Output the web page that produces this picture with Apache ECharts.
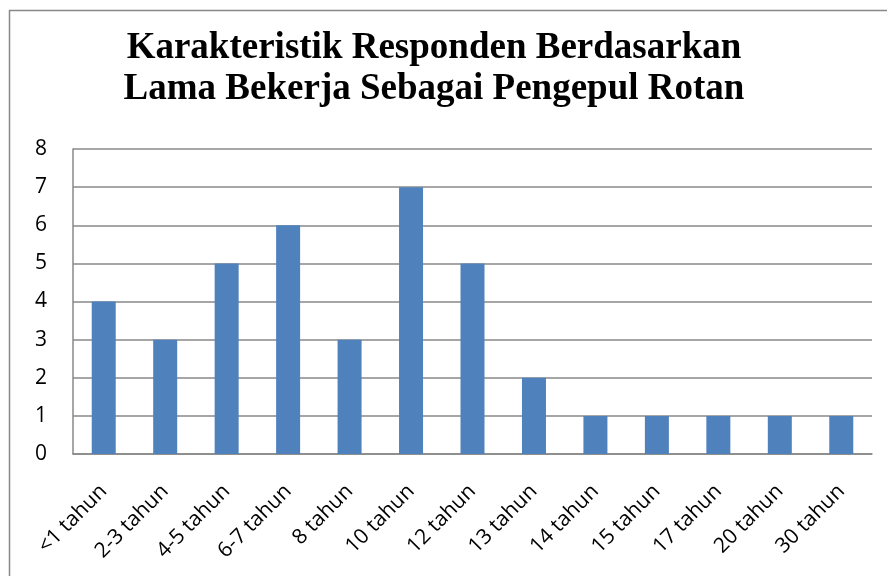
<!DOCTYPE html>
<html>
<head>
<meta charset="utf-8">
<script src="https://cdn.jsdelivr.net/npm/echarts@6.0.0/dist/echarts.min.js"></script>
<style>
  html, body { margin: 0; padding: 0; background: #fff; }
  #chart { width: 887px; height: 576px; }
</style>
</head>
<body>
<div id="chart"></div>
<script>
// Data
const categories = ["<1 tahun", "2-3 tahun", "4-5 tahun", "6-7 tahun", "8 tahun", "10 tahun",
  "12 tahun", "13 tahun", "14 tahun", "15 tahun", "17 tahun", "20 tahun", "30 tahun"];
const values = [4, 3, 5, 6, 3, 7, 5, 2, 1, 1, 1, 1, 1];
const titleLines = ["Karakteristik Responden Berdasarkan", "Lama Bekerja Sebagai Pengepul Rotan"];

const chart = echarts.init(document.getElementById("chart"), null, { renderer: "canvas" });

chart.setOption({
  backgroundColor: "#fff",
  animation: false,
  graphic: [
    {
      type: "rect",
      shape: { x: 9.5, y: 10.5, width: 900, height: 600 },
      style: { fill: "none", stroke: "#888", lineWidth: 1.5 },
      silent: true
    }
  ],
  title: {
    text: titleLines.join("\n"),
    left: 429,
    textAlign: "center",
    top: 23,
    textStyle: {
      fontFamily: "Liberation Serif",
      fontWeight: "bold",
      fontSize: 37,
      lineHeight: 41,
      color: "#000"
    }
  },
  grid: { left: 73, top: 149, right: 15, bottom: 122, containLabel: false },
  xAxis: {
    type: "category",
    data: categories,
    axisLine: { lineStyle: { color: "#888", width: 1.5 } },
    axisTick: { show: false },
    axisLabel: {
      rotate: 45,
      interval: 0,
      color: "#000",
      fontFamily: "Open Sans",
      fontSize: 21,
      margin: 34
    }
  },
  yAxis: {
    type: "value",
    min: 0,
    max: 8,
    interval: 1,
    axisLine: { show: true, lineStyle: { color: "#888", width: 1.5 } },
    axisTick: { show: false },
    axisLabel: {
      color: "#000",
      fontFamily: "Open Sans",
      fontSize: 21,
      margin: 26
    },
    splitLine: { lineStyle: { color: "#888", width: 1.5 } }
  },
  series: [
    {
      type: "bar",
      data: values,
      barWidth: 24,
      itemStyle: { color: "#4F81BD" }
    }
  ]
});
</script>
</body>
</html>
